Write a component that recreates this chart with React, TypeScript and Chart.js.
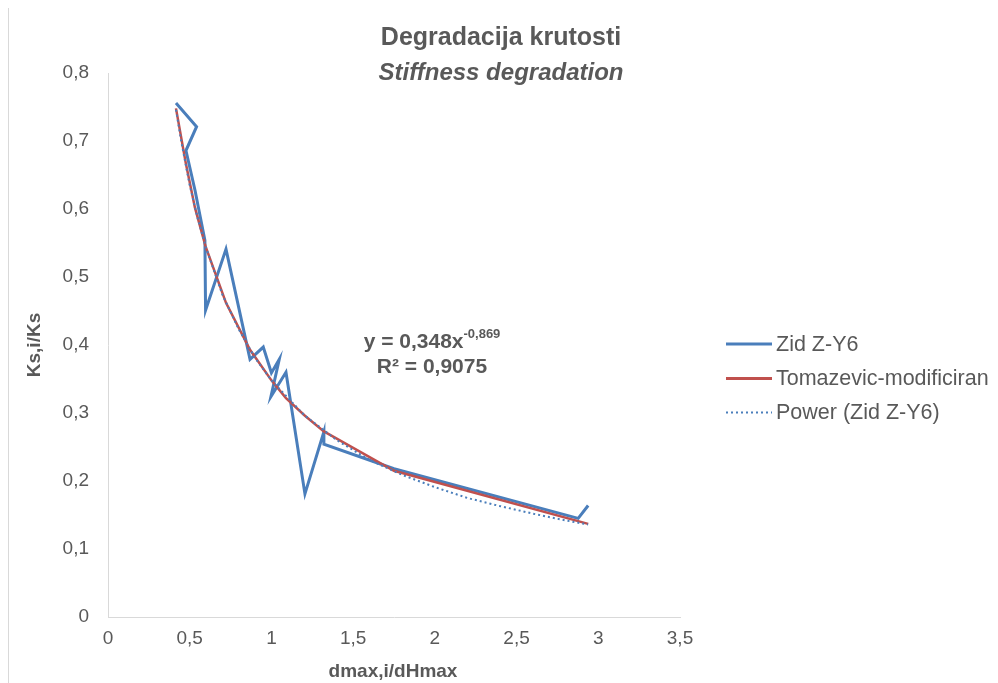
import React, { useEffect, useRef } from "react";
import { Chart, registerables } from "chart.js";

Chart.register(...registerables);

// Measured series "Zid Z-Y6"
const zidX = [0.416, 0.542, 0.477, 0.532, 0.593, 0.597, 0.722, 0.869, 0.95, 1.0, 1.048, 0.997, 1.089, 1.205, 1.321, 1.321, 1.75, 2.877, 2.938];
const zidY = [0.756, 0.721, 0.686, 0.628, 0.554, 0.451, 0.541, 0.379, 0.397, 0.359, 0.379, 0.324, 0.36, 0.181, 0.2725, 0.254, 0.218, 0.145, 0.164];

// "Tomazevic-modificiran"
const tomX = [0.416, 0.477, 0.532, 0.597, 0.722, 0.869, 1.0, 1.089, 1.205, 1.321, 1.75, 2.938];
const tomY = [0.748, 0.666, 0.602, 0.545, 0.462, 0.393, 0.348, 0.322, 0.296, 0.273, 0.215, 0.137];

// "Power (Zid Z-Y6)" trendline
const powX = [0.416, 0.45, 0.5, 0.55, 0.6, 0.7, 0.8, 0.9, 1.0, 1.2, 1.4, 1.6, 1.8, 2.0, 2.2, 2.4, 2.6, 2.8, 2.938];
const powY = [0.746, 0.697, 0.635, 0.585, 0.543, 0.474, 0.423, 0.381, 0.348, 0.297, 0.26, 0.231, 0.209, 0.191, 0.175, 0.163, 0.152, 0.142, 0.136];

const xTicks = [0, 0.5, 1, 1.5, 2, 2.5, 3, 3.5];
const yTicks = [0, 0.1, 0.2, 0.3, 0.4, 0.5, 0.6, 0.7, 0.8];

const TITLE = "Degradacija krutosti";
const SUBTITLE = "Stiffness degradation";
const X_TITLE = "dmax,i/dHmax";
const Y_TITLE = "Ks,i/Ks";
const EQ_MAIN = "y = 0,348x";
const EQ_EXP = "-0,869";
const R2 = "R² = 0,9075";
const LEGEND = ["Zid Z-Y6", "Tomazevic-modificiran", "Power (Zid Z-Y6)"];

const BLUE = "#4A7EBB";
const RED = "#C0504D";
const TEXT = "#595959";
const FONT = "'Liberation Sans', Arial, sans-serif";

const fmt = (v: number) => String(v).replace(".", ",");
const pts = (xs: number[], ys: number[]) => xs.map((x, i) => ({ x, y: ys[i] }));

const textPlugin = {
  id: "texts",
  afterDraw(chart: any) {
    const ctx = chart.ctx as CanvasRenderingContext2D;
    ctx.save();
    ctx.fillStyle = TEXT;
    ctx.textAlign = "center";
    ctx.textBaseline = "middle";
    // titles
    ctx.font = `bold 25px ${FONT}`;
    ctx.fillText(TITLE, 492, 30);
    ctx.font = `italic bold 24px ${FONT}`;
    ctx.fillText(SUBTITLE, 492, 65);
    // axis titles
    ctx.font = `bold 19px ${FONT}`;
    ctx.fillText(X_TITLE, 384, 664);
    ctx.save();
    ctx.translate(26, 337);
    ctx.rotate(-Math.PI / 2);
    ctx.fillText(Y_TITLE, 0, 0);
    ctx.restore();
    // equation
    ctx.font = `bold 21px ${FONT}`;
    const w1 = ctx.measureText(EQ_MAIN).width;
    ctx.font = `bold 13px ${FONT}`;
    const w2 = ctx.measureText(EQ_EXP).width;
    const start = 423 - (w1 + w2) / 2;
    ctx.textAlign = "left";
    ctx.font = `bold 21px ${FONT}`;
    ctx.fillText(EQ_MAIN, start, 334);
    ctx.font = `bold 13px ${FONT}`;
    ctx.fillText(EQ_EXP, start + w1, 326);
    ctx.textAlign = "center";
    ctx.font = `bold 21px ${FONT}`;
    ctx.fillText(R2, 423, 359);
    // legend
    const ly = [336, 370.5, 404.5];
    const cols = [BLUE, RED, BLUE];
    ctx.textAlign = "left";
    ctx.font = `21.5px ${FONT}`;
    for (let i = 0; i < 3; i++) {
      ctx.beginPath();
      ctx.strokeStyle = cols[i];
      ctx.lineWidth = i === 2 ? 2 : 3;
      ctx.setLineDash(i === 2 ? [2, 3] : []);
      ctx.moveTo(717, ly[i]);
      ctx.lineTo(763, ly[i]);
      ctx.stroke();
      ctx.setLineDash([]);
      ctx.fillStyle = TEXT;
      ctx.fillText(LEGEND[i], 767, ly[i] + 1);
    }
    ctx.restore();
  },
};

export default function App() {
  const ref = useRef<HTMLCanvasElement | null>(null);
  useEffect(() => {
    const prev = document.documentElement.style.overflow;
    document.documentElement.style.overflow = "hidden";
    if (!ref.current) return;
    const chart = new Chart(ref.current, {
      type: "scatter",
      data: {
        datasets: [
          {
            label: LEGEND[0],
            data: pts(zidX, zidY),
            showLine: true,
            borderColor: BLUE,
            backgroundColor: BLUE,
            borderWidth: 3,
            pointRadius: 0,
            tension: 0,
            order: 3,
          },
          {
            label: LEGEND[1],
            data: pts(tomX, tomY),
            showLine: true,
            borderColor: RED,
            backgroundColor: RED,
            borderWidth: 2.5,
            pointRadius: 0,
            tension: 0,
            order: 2,
          },
          {
            label: LEGEND[2],
            data: pts(powX, powY),
            showLine: true,
            borderColor: BLUE,
            backgroundColor: BLUE,
            borderWidth: 2,
            borderDash: [2, 3],
            pointRadius: 0,
            tension: 0,
            order: 1,
          },
        ],
      },
      options: {
        animation: false,
        responsive: false,
        maintainAspectRatio: false,
        layout: { padding: { left: 0, top: 65, right: 318, bottom: 0 } },
        plugins: { legend: { display: false }, title: { display: false }, tooltip: { enabled: false } },
        scales: {
          x: {
            type: "linear",
            min: 0,
            max: 3.5,
            afterBuildTicks: (s: any) => { s.ticks = xTicks.map((v) => ({ value: v })); },
            afterFit: (s: any) => { s.height = 66; },
            grid: { display: false, drawTicks: false },
            border: { display: true, color: "#D9D9D9", width: 1 },
            ticks: { color: TEXT, font: { family: FONT, size: 19 }, padding: 10, callback: (v: any) => fmt(v) },
          },
          y: {
            type: "linear",
            min: 0,
            max: 0.8,
            afterBuildTicks: (s: any) => { s.ticks = yTicks.map((v) => ({ value: v })); },
            afterFit: (s: any) => { s.width = 99; },
            grid: { display: false, drawTicks: false },
            border: { display: true, color: "#D9D9D9", width: 1 },
            ticks: { color: TEXT, font: { family: FONT, size: 19 }, padding: 19, callback: (v: any) => fmt(v) },
          },
        },
      },
      plugins: [textPlugin],
    });
    return () => {
      chart.destroy();
      document.documentElement.style.overflow = prev;
    };
  }, []);
  return (
    <div style={{ marginTop: -1, borderTop: "1px solid #D9D9D9", borderLeft: "1px solid #D9D9D9", width: 989, height: 675 }}>
      <canvas ref={ref} width={989} height={675} style={{ display: "block", width: 989, height: 675 }} />
    </div>
  );
}
